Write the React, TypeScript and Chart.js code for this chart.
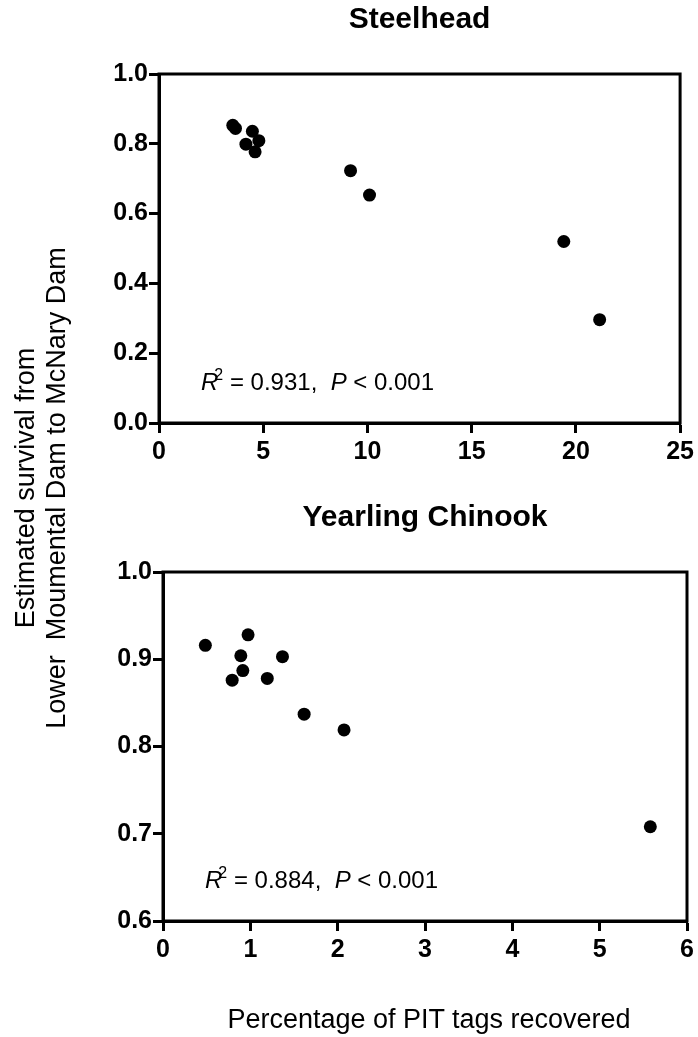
import React, { useEffect, useRef } from "react";
import { Chart, registerables } from "chart.js";

Chart.register(...registerables);

// ---- Data ----
const steelheadX = [3.54, 3.67, 4.48, 4.17, 4.79, 4.61, 9.19, 10.1, 19.42, 21.14];
const steelheadY = [0.853, 0.844, 0.836, 0.799, 0.809, 0.777, 0.723, 0.653, 0.52, 0.296];
const chinookX = [0.485, 0.974, 0.891, 1.368, 0.914, 0.792, 1.194, 1.616, 2.073, 5.58];
const chinookY = [0.916, 0.928, 0.904, 0.903, 0.887, 0.876, 0.878, 0.837, 0.819, 0.708];

const steelheadXRange = [0, 25];
const steelheadXStep = 5;
const steelheadYRange = [0, 1];
const steelheadYStep = 0.2;
const chinookXRange = [0, 6];
const chinookXStep = 1;
const chinookYRange = [0.6, 1];
const chinookYStep = 0.1;

const titles = ["Steelhead", "Yearling Chinook"];
const stats = [
  { r2: "0.931", p: "0.001" },
  { r2: "0.884", p: "0.001" },
];
const yTitleLines = ["Estimated survival from", "Lower  Moumental Dam to McNary Dam"];
const xTitle = "Percentage of PIT tags recovered";

const FONT = "Arial, 'Liberation Sans', Helvetica, sans-serif";

const boxPlugin = {
  id: "boxAndStats",
  afterDraw(chart: any) {
    const { ctx, chartArea } = chart;
    ctx.save();
    ctx.strokeStyle = "#000";
    ctx.lineWidth = 3;
    ctx.strokeRect(chartArea.left, chartArea.top, chartArea.right - chartArea.left, chartArea.bottom - chartArea.top);
    const st = chart.options.plugins.boxAndStats;
    if (st) {
      let x = chartArea.left + 42;
      const y = chartArea.bottom - 33;
      const fs = 24;
      ctx.fillStyle = "#000";
      ctx.textBaseline = "alphabetic";
      ctx.textAlign = "left";
      ctx.font = `italic ${fs}px ${FONT}`;
      ctx.fillText("R", x, y);
      x += ctx.measureText("R").width - 4;
      ctx.font = `${Math.round(fs * 0.65)}px ${FONT}`;
      ctx.fillText("2", x, y - 10);
      x += ctx.measureText("2").width;
      ctx.font = `${fs}px ${FONT}`;
      const mid = ` = ${st.r2},  `;
      ctx.fillText(mid, x, y);
      x += ctx.measureText(mid).width;
      ctx.font = `italic ${fs}px ${FONT}`;
      ctx.fillText("P", x, y);
      x += ctx.measureText("P").width;
      ctx.font = `${fs}px ${FONT}`;
      ctx.fillText(` < ${st.p}`, x, y);
    }
    ctx.restore();
  },
};

function makeConfig(
  xs: number[],
  ys: number[],
  xRange: number[],
  xStep: number,
  yRange: number[],
  yStep: number,
  title: string,
  stat: any,
  titlePad: any,
  padding: any
) {
  const axisCommon = {
    grid: {
      drawOnChartArea: false,
      drawTicks: true,
      tickLength: 10,
      tickWidth: 3,
      tickColor: "#000",
    },
    border: { display: true, color: "#000", width: 3 },
  };
  return {
    type: "scatter" as const,
    data: {
      datasets: [
        {
          data: xs.map((x, i) => ({ x, y: ys[i] })),
          backgroundColor: "#000",
          borderColor: "#000",
          borderWidth: 0,
          pointRadius: 6.5,
          pointHoverRadius: 6.5,
        },
      ],
    },
    options: {
      animation: false,
      responsive: false,
      maintainAspectRatio: false,
      layout: { padding },
      plugins: {
        legend: { display: false },
        tooltip: { enabled: false },
        title: {
          display: true,
          text: title,
          fullSize: false,
          color: "#000",
          font: { family: FONT, size: 30, weight: "bold", lineHeight: 1.2 },
          padding: titlePad,
        },
        boxAndStats: stat,
      },
      scales: {
        x: {
          type: "linear",
          min: xRange[0],
          max: xRange[1],
          ...axisCommon,
          ticks: {
            stepSize: xStep,
            color: "#000",
            padding: 4,
            maxRotation: 0,
            font: { family: FONT, size: 25, weight: "bold" },
            callback: (v: any) => String(Math.round(Number(v))),
          },
          afterFit: (s: any) => {
            s.height = 44;
          },
        },
        y: {
          type: "linear",
          min: yRange[0],
          max: yRange[1],
          ...axisCommon,
          ticks: {
            stepSize: yStep,
            color: "#000",
            padding: 1,
            font: { family: FONT, size: 25, weight: "bold" },
            callback: (v: any) => Number(v).toFixed(1),
          },
          afterFit: (s: any) => {
            s.width = 60;
          },
        },
      },
    },
    plugins: [boxPlugin],
  };
}

function ScatterPanel(props: { config: any; top: number; height: number }) {
  const ref = useRef<HTMLCanvasElement>(null);
  useEffect(() => {
    if (!ref.current) return;
    const chart = new Chart(ref.current, props.config);
    return () => chart.destroy();
  }, []);
  return (
    <canvas
      ref={ref}
      width={698}
      height={props.height}
      style={{ position: "absolute", left: 0, top: props.top, width: 698, height: props.height, display: "block" }}
    />
  );
}

export default function App() {
  // Panel 1: plot area x 159-682, y 74-423 ; canvas 0..470 ; title box 36px
  const cfg1 = makeConfig(
    steelheadX,
    steelheadY,
    steelheadXRange,
    steelheadXStep,
    steelheadYRange,
    steelheadYStep,
    titles[0],
    stats[0],
    { top: 2, bottom: 74 - 38 },
    { left: 99, right: 16, top: 0, bottom: 470 - 423 - 44 }
  );
  // Panel 2: plot area x 163-687, y 572-921 ; canvas top 470, height 567
  const cfg2 = makeConfig(
    chinookX,
    chinookY,
    chinookXRange,
    chinookXStep,
    chinookYRange,
    chinookYStep,
    titles[1],
    stats[1],
    { top: 30, bottom: 102 - 66 },
    { left: 103, right: 11, top: 0, bottom: 567 - (921 - 470) - 44 }
  );

  return (
    <div style={{ position: "absolute", left: 0, top: 0, width: 698, height: 1037, background: "#fff", overflow: "hidden" }}>
      <ScatterPanel config={cfg1} top={0} height={470} />
      <ScatterPanel config={cfg2} top={470} height={567} />
      <div
        style={{
          position: "absolute",
          left: 41,
          top: 488,
          width: 760,
          transform: "translate(-50%, -50%) rotate(-90deg)",
          textAlign: "center",
          fontFamily: FONT,
          fontSize: 27,
          lineHeight: "31px",
          color: "#000",
          whiteSpace: "pre",
        }}
      >
        {yTitleLines[0]}
        {"\n"}
        {yTitleLines[1]}
      </div>
      <div
        style={{
          position: "absolute",
          left: 429,
          top: 1019,
          transform: "translate(-50%, -50%)",
          fontFamily: FONT,
          fontSize: 27,
          color: "#000",
          whiteSpace: "nowrap",
        }}
      >
        {xTitle}
      </div>
    </div>
  );
}
